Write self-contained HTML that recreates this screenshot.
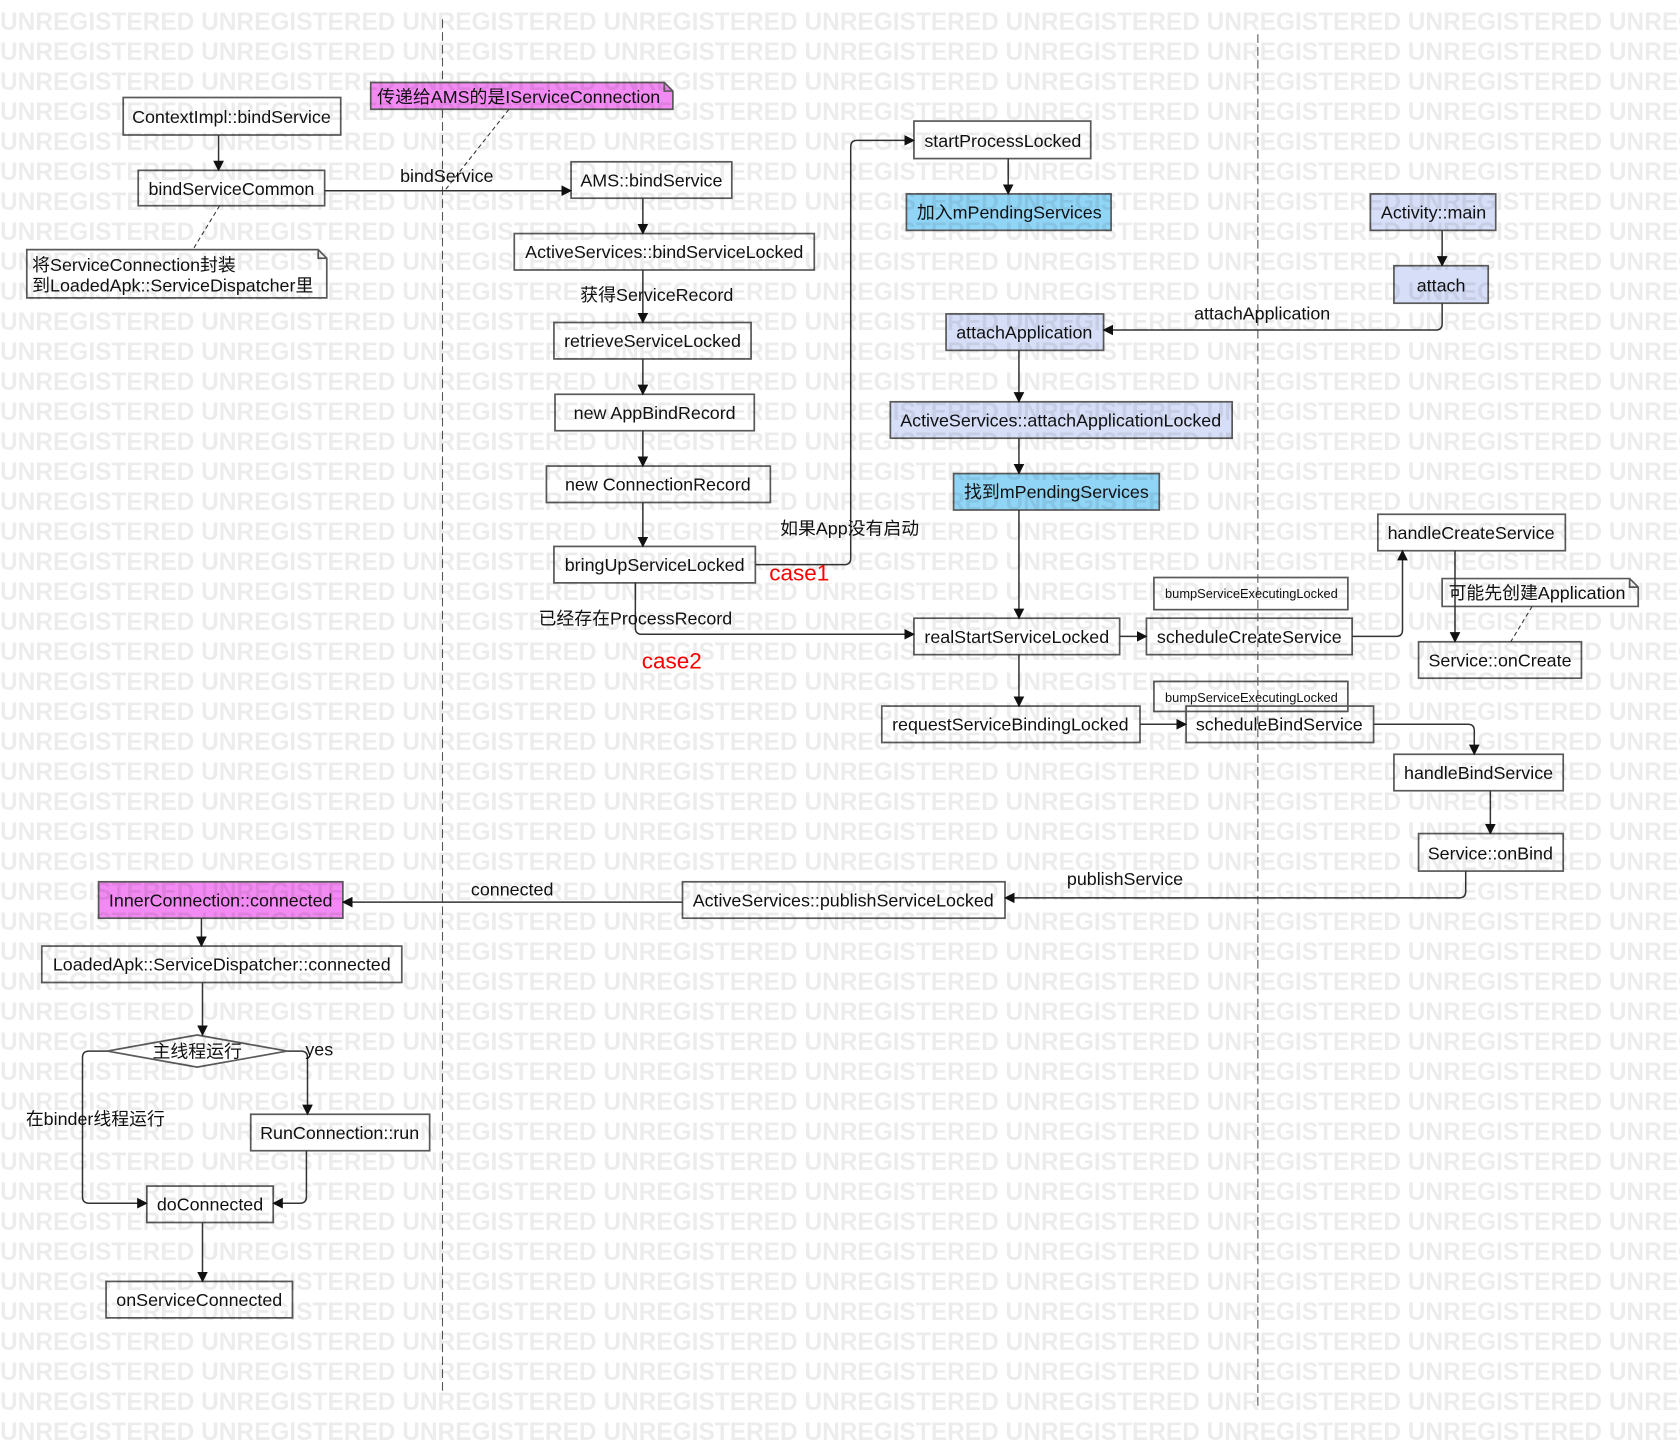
<!DOCTYPE html>
<html><head><meta charset="utf-8"><style>html,body{margin:0;padding:0;background:#fff}svg{display:block}</style></head>
<body>
<svg xmlns="http://www.w3.org/2000/svg" width="1680" height="1455" viewBox="0 0 1568 1358" font-family="'Liberation Sans','Noto Sans CJK SC',sans-serif" font-size="16.7">
<defs>
<marker id="a" markerWidth="10" markerHeight="10" refX="9" refY="5" orient="auto" markerUnits="userSpaceOnUse"><path d="M0,0 L10,5 L0,10 z" fill="#111"/></marker>
</defs>
<rect width="1568" height="1358" fill="#fff"/>
<g stroke="#555" stroke-width="1" stroke-dasharray="8,4"><line x1="413" y1="18" x2="413" y2="1300"/><line x1="1174" y1="32" x2="1174" y2="1315"/></g>
<g fill="none" stroke="#5a5a5a" stroke-width="1.6">
<rect x="115" y="91" width="203" height="35"/><rect x="129" y="159" width="174" height="33"/>
<rect x="533" y="151" width="150" height="34"/><rect x="480" y="218" width="280" height="34"/>
<rect x="517" y="301" width="184" height="34"/><rect x="518" y="368" width="186" height="34"/>
<rect x="510" y="435" width="209" height="34"/><rect x="517" y="510" width="188" height="34"/>
<rect x="853" y="113" width="165" height="35"/>
<rect x="853" y="577" width="192" height="34"/><rect x="1070" y="577" width="192" height="34"/>
<rect x="1077" y="539" width="181" height="30"/><rect x="1286" y="480" width="175" height="34"/>
<rect x="1324" y="599" width="152" height="34"/><rect x="823" y="659" width="241" height="34"/>
<rect x="1077" y="636" width="181" height="28"/><rect x="1107" y="659" width="175" height="34"/>
<rect x="1301" y="704" width="158" height="34"/><rect x="1324" y="778" width="135" height="35"/>
<rect x="637" y="823" width="301" height="34"/><rect x="39" y="883" width="336" height="34"/>
<rect x="234" y="1040" width="167" height="34"/><rect x="137" y="1107" width="118" height="34"/>
<rect x="99" y="1196" width="174" height="34"/>
</g>
<g stroke="#5a5a5a" stroke-width="1.6">
<rect x="846" y="181" width="191" height="34" fill="#90d4f6"/><rect x="890" y="442" width="192" height="34" fill="#90d4f6"/>
<rect x="1279" y="181" width="117" height="34" fill="#d6def8"/><rect x="1301" y="248" width="88" height="35" fill="#d6def8"/>
<rect x="883" y="293" width="147" height="34" fill="#d6def8"/><rect x="831" y="375" width="319" height="34" fill="#d6def8"/>
<rect x="92" y="823" width="228" height="34" fill="#f38af3"/>
<path d="M346,77 H620 L628,85 V102 H346 Z" fill="#f38af3"/><path d="M620,77 V85 H628" fill="none"/>
<path d="M25,233 H297 L305,241 V278 H25 Z" fill="#fff"/><path d="M297,233 V241 H305" fill="none"/>
<path d="M1346,540 H1521 L1529,548 V566 H1346 Z" fill="#fff"/><path d="M1521,540 V548 H1529" fill="none"/>
<path d="M184,966 L268,981 L184,996 L100,981 Z" fill="#fff"/>
</g>
<g fill="none" stroke="#333" stroke-width="1.4" marker-end="url(#a)">
<path d="M204,126 V159"/><path d="M303,178 H533"/>
<path d="M600,185 V218"/><path d="M600,252 V301"/><path d="M600,335 V368"/><path d="M600,402 V435"/><path d="M600,469 V510"/>
<path d="M705,527 H788 Q794,527 794,521 V137 Q794,131 800,131 H853"/>
<path d="M593,544 V586 Q593,592 599,592 H853"/>
<path d="M941,148 V181"/><path d="M1346,215 V248"/>
<path d="M1346,283 V302 Q1346,308 1340,308 H1030"/>
<path d="M951,327 V375"/><path d="M951,409 V442"/><path d="M951,476 V577"/>
<path d="M1045,594 H1070"/><path d="M1262,594 H1303 Q1309,594 1309,588 V514"/>
<path d="M1358,514 V599"/><path d="M951,611 V659"/><path d="M1064,676 H1107"/>
<path d="M1282,676 H1370 Q1376,676 1376,682 V704"/><path d="M1391,738 V778"/>
<path d="M1368,813 V832 Q1368,838 1362,838 H938"/><path d="M637,842 H320"/>
<path d="M188,857 V883"/><path d="M189,917 V966"/>
<path d="M268,981 H281 Q287,981 287,987 V1040"/>
<path d="M100,981 H83 Q77,981 77,987 V1117 Q77,1123 83,1123 H137"/>
<path d="M286,1074 V1117 Q286,1123 280,1123 H255"/><path d="M189,1141 V1196"/>
</g>
<g stroke="#333" stroke-dasharray="4,3" stroke-width="1"><line x1="205" y1="192" x2="180" y2="233"/><line x1="475" y1="102" x2="415" y2="178"/><line x1="1430" y1="566" x2="1410" y2="599"/></g>
<g fill="#111" text-anchor="middle">
<text x="216" y="115">ContextImpl::bindService</text><text x="216" y="182">bindServiceCommon</text>
<text x="608" y="174">AMS::bindService</text><text x="620" y="241">ActiveServices::bindServiceLocked</text>
<text x="609" y="324">retrieveServiceLocked</text><text x="611" y="391">new AppBindRecord</text>
<text x="614" y="458">new ConnectionRecord</text><text x="611" y="533">bringUpServiceLocked</text>
<text x="936" y="137">startProcessLocked</text><text x="942" y="204">加入mPendingServices</text>
<text x="1338" y="204">Activity::main</text><text x="1345" y="272">attach</text>
<text x="956" y="316">attachApplication</text><text x="990" y="398">ActiveServices::attachApplicationLocked</text>
<text x="986" y="465">找到mPendingServices</text>
<text x="949" y="600">realStartServiceLocked</text><text x="1166" y="600">scheduleCreateService</text>
<text x="1168" y="558" font-size="12">bumpServiceExecutingLocked</text><text x="1168" y="655" font-size="12">bumpServiceExecutingLocked</text>
<text x="1373" y="503">handleCreateService</text><text x="1400" y="622">Service::onCreate</text>
<text x="943" y="682">requestServiceBindingLocked</text><text x="1194" y="682">scheduleBindService</text>
<text x="1380" y="727">handleBindService</text><text x="1391" y="802">Service::onBind</text>
<text x="787" y="846">ActiveServices::publishServiceLocked</text><text x="206" y="846">InnerConnection::connected</text>
<text x="207" y="906">LoadedApk::ServiceDispatcher::connected</text><text x="184" y="987">主线程运行</text>
<text x="317" y="1063">RunConnection::run</text><text x="196" y="1130">doConnected</text>
<text x="186" y="1219">onServiceConnected</text>
<text x="417" y="170">bindService</text><text x="613" y="281">获得ServiceRecord</text>
<text x="793" y="499">如果App没有启动</text><text x="593" y="583">已经存在ProcessRecord</text>
<text x="1178" y="298">attachApplication</text><text x="1050" y="826">publishService</text>
<text x="478" y="836">connected</text><text x="298" y="985">yes</text><text x="89" y="1050">在binder线程运行</text>
<text x="746" y="542" font-size="21" fill="#f00">case1</text><text x="627" y="624" font-size="21" fill="#f00">case2</text>
</g>
<g fill="#111" text-anchor="start">
<text x="352" y="96">传递给AMS的是IServiceConnection</text>
<text x="30" y="253">将ServiceConnection封装</text><text x="30" y="272">到LoadedApk::ServiceDispatcher里</text>
<text x="1352" y="559">可能先创建Application</text>
</g>
<g id="wm"></g>
<script>
var g=document.getElementById('wm');var ns='http://www.w3.org/2000/svg';
for(var i=0;i<48;i++){var t=document.createElementNS(ns,'text');t.setAttribute('x','0');t.setAttribute('y',28+i*28);t.setAttribute('textLength','1683');t.setAttribute('lengthAdjust','spacingAndGlyphs');t.setAttribute('fill','#000');t.setAttribute('fill-opacity','0.075');t.setAttribute('font-size','23');t.setAttribute('font-weight','bold');t.textContent='UNREGISTERED UNREGISTERED UNREGISTERED UNREGISTERED UNREGISTERED UNREGISTERED UNREGISTERED UNREGISTERED UNREGISTERED';g.appendChild(t);}
</script>
</svg>
</body></html>
